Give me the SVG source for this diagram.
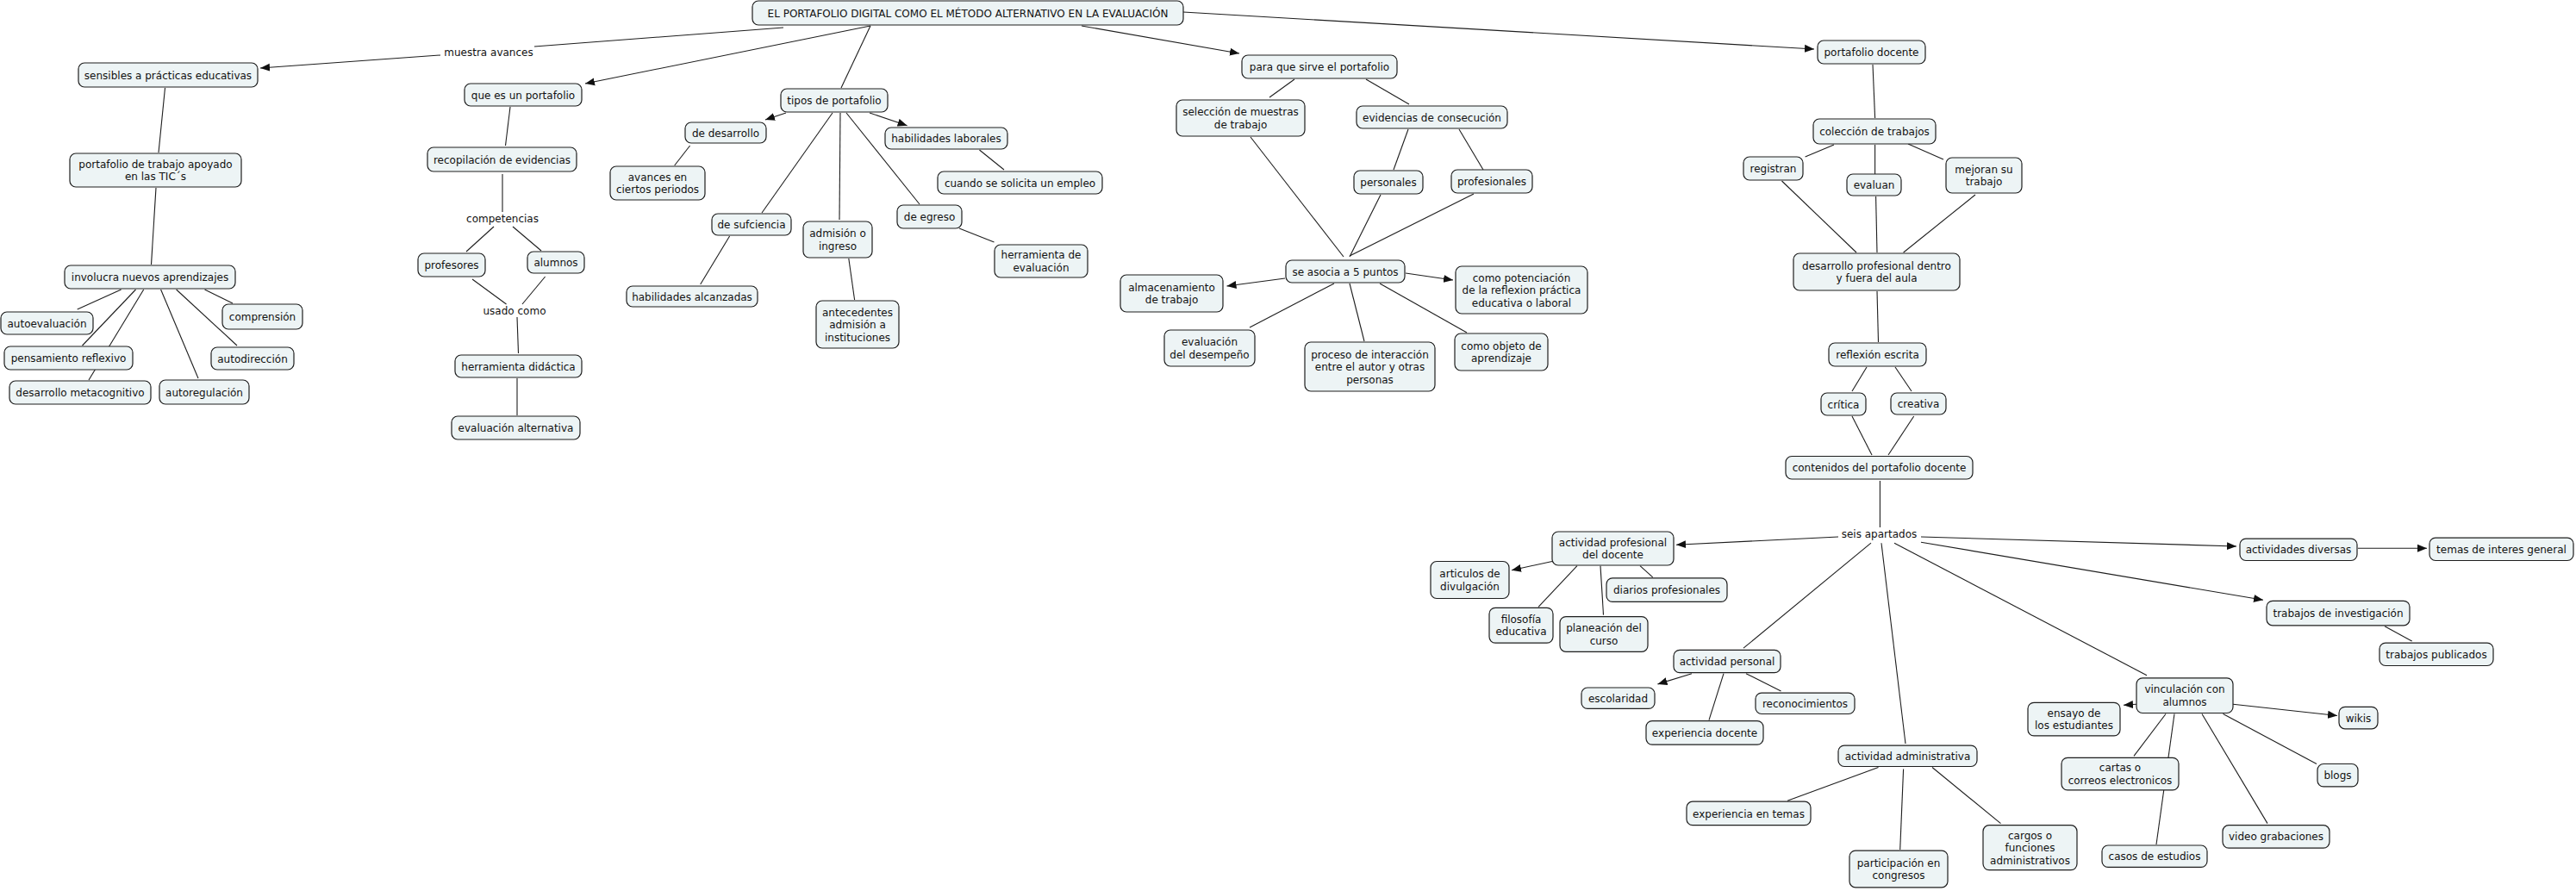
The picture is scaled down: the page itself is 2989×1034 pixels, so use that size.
<svg xmlns="http://www.w3.org/2000/svg" width="2989" height="1034" viewBox="0 0 2989 1034">
<style>
.n rect{fill:#edf4f5;stroke:#1e1e1e;stroke-width:1.2}
text{font-family:"DejaVu Sans",Verdana,sans-serif;font-size:12px;fill:#111;text-anchor:middle}
.c line{stroke:#1e1e1e;stroke-width:1.1}
.c line.a{marker-end:url(#ah)}
</style>
<defs>
<marker id="ah" markerUnits="userSpaceOnUse" markerWidth="12" markerHeight="10" refX="11" refY="5" orient="auto"><path d="M0,0.5 L11,5 L0,9.5 z" fill="#111"/></marker>
</defs>
<rect x="0" y="0" width="2989" height="1034" fill="#fff"/>
<g id="connectors" class="c">
<line x1="909" y1="32" x2="620" y2="54"/>
<line class="a" x1="511" y1="64" x2="302" y2="79"/>
<line class="a" x1="1010" y1="30" x2="679" y2="97"/>
<line x1="1010" y1="30" x2="976" y2="102"/>
<line class="a" x1="1255" y1="30" x2="1438" y2="62"/>
<line class="a" x1="1373" y1="14" x2="2105" y2="57"/>
<line x1="191.5" y1="102" x2="184" y2="177"/>
<line x1="181" y1="218" x2="175.5" y2="307"/>
<line x1="140.6" y1="336" x2="89.7" y2="359"/>
<line x1="157.5" y1="336" x2="95.5" y2="401"/>
<line x1="166.7" y1="336" x2="103" y2="441"/>
<line x1="186.6" y1="336" x2="230" y2="439"/>
<line x1="204.6" y1="336" x2="275" y2="401"/>
<line x1="237.5" y1="336" x2="270" y2="352"/>
<line x1="592" y1="124" x2="586.5" y2="169"/>
<line x1="583" y1="202" x2="583" y2="246"/>
<line x1="573" y1="263" x2="541" y2="292"/>
<line x1="595" y1="263" x2="628" y2="291"/>
<line x1="548" y1="324" x2="587.5" y2="353"/>
<line x1="632.6" y1="321" x2="606" y2="353"/>
<line x1="600" y1="368" x2="601.5" y2="410"/>
<line x1="600" y1="439" x2="600" y2="482"/>
<line class="a" x1="912" y1="131" x2="888" y2="139"/>
<line x1="800.6" y1="169" x2="782.7" y2="192"/>
<line class="a" x1="1009" y1="131" x2="1052.6" y2="145.7"/>
<line x1="1136.5" y1="174" x2="1165" y2="197"/>
<line x1="966" y1="131" x2="884" y2="247"/>
<line x1="846.6" y1="274" x2="812.7" y2="330"/>
<line x1="975" y1="131" x2="974" y2="255"/>
<line x1="984.8" y1="300" x2="991.6" y2="348"/>
<line x1="982" y1="131" x2="1067" y2="237"/>
<line x1="1113" y1="265" x2="1153.5" y2="281"/>
<line x1="1502" y1="92" x2="1473" y2="113"/>
<line x1="1585" y1="92" x2="1635" y2="121"/>
<line x1="1451" y1="159" x2="1559" y2="298"/>
<line x1="1634" y1="150" x2="1617" y2="197"/>
<line x1="1693" y1="150" x2="1721" y2="197"/>
<line x1="1602" y1="226" x2="1566" y2="298"/>
<line x1="1710" y1="225" x2="1566" y2="297"/>
<line class="a" x1="1491" y1="323" x2="1423.5" y2="332"/>
<line x1="1548" y1="329" x2="1450" y2="380"/>
<line class="a" x1="1631" y1="317" x2="1686" y2="325"/>
<line x1="1566" y1="329" x2="1583" y2="396"/>
<line x1="1601" y1="329" x2="1702" y2="386"/>
<line x1="2173" y1="75" x2="2175.6" y2="137"/>
<line x1="2128" y1="168" x2="2094.6" y2="182"/>
<line x1="2175.6" y1="168" x2="2175.6" y2="202"/>
<line x1="2214" y1="167" x2="2255" y2="185"/>
<line x1="2067.5" y1="210" x2="2154" y2="293"/>
<line x1="2176.6" y1="228" x2="2178" y2="293"/>
<line x1="2292" y1="226" x2="2208.6" y2="293"/>
<line x1="2178" y1="338" x2="2179.5" y2="397"/>
<line x1="2166" y1="426" x2="2149" y2="454"/>
<line x1="2199" y1="426" x2="2218" y2="454"/>
<line x1="2149" y1="483" x2="2172" y2="528"/>
<line x1="2220.7" y1="483" x2="2191" y2="528"/>
<line x1="2181.4" y1="558" x2="2181.4" y2="612"/>
<line class="a" x1="2133" y1="623" x2="1945" y2="632.2"/>
<line class="a" x1="1801" y1="651.5" x2="1754" y2="661.7"/>
<line x1="1830" y1="656.6" x2="1785" y2="704.4"/>
<line x1="1857" y1="656.6" x2="1860.5" y2="713.6"/>
<line x1="1903" y1="656.6" x2="1917.7" y2="669.8"/>
<line x1="2171" y1="630.2" x2="2023" y2="752.2"/>
<line class="a" x1="1963" y1="781.7" x2="1923.5" y2="793.9"/>
<line x1="2000" y1="781.7" x2="1983" y2="835.6"/>
<line x1="2026" y1="781.7" x2="2066.5" y2="802"/>
<line x1="2183" y1="630.2" x2="2211" y2="863"/>
<line x1="2179.5" y1="890.5" x2="2074" y2="929.2"/>
<line x1="2208.6" y1="892.6" x2="2204.7" y2="986.1"/>
<line x1="2242" y1="890.5" x2="2321.5" y2="955.6"/>
<line class="a" x1="2229" y1="623" x2="2595" y2="634"/>
<line class="a" x1="2736" y1="636.3" x2="2816" y2="636.3"/>
<line class="a" x1="2229" y1="629.2" x2="2626" y2="696.3"/>
<line x1="2767" y1="726.8" x2="2798.7" y2="744.1"/>
<line x1="2198" y1="630.2" x2="2491" y2="783.7"/>
<line class="a" x1="2479" y1="817.3" x2="2464" y2="818.3"/>
<line class="a" x1="2591" y1="817.3" x2="2712" y2="830.5"/>
<line x1="2579.5" y1="828.5" x2="2688" y2="886.5"/>
<line x1="2555" y1="828.5" x2="2631" y2="955.6"/>
<line x1="2513" y1="828.5" x2="2476" y2="877.3"/>
<line x1="2523" y1="828.5" x2="2502" y2="980"/>
</g>
<g id="labels">
<text x="567" y="64.5">muestra avances</text>
<text x="583" y="257.5">competencias</text>
<text x="597" y="364.5">usado como</text>
<text x="2180.5" y="624.2">seis apartados</text>
</g>
<g id="n1" class="n"><rect x="873" y="1" width="500" height="28" rx="7"/><text x="1123" y="19.5">EL PORTAFOLIO DIGITAL COMO EL MÉTODO ALTERNATIVO EN LA EVALUACIÓN</text></g>
<g id="n2" class="n"><rect x="91" y="73" width="208" height="28" rx="7"/><text x="195" y="91.5">sensibles a prácticas educativas</text></g>
<g id="n3" class="n"><rect x="81" y="178" width="199" height="39" rx="7"/><text x="180.5" y="194.75">portafolio de trabajo apoyado</text><text x="180.5" y="209.25">en las TIC´s</text></g>
<g id="n4" class="n"><rect x="75" y="308" width="198" height="27" rx="7"/><text x="174" y="326">involucra nuevos aprendizajes</text></g>
<g id="n5" class="n"><rect x="1" y="362" width="107" height="26" rx="7"/><text x="54.5" y="379.5">autoevaluación</text></g>
<g id="n6" class="n"><rect x="258" y="353" width="93" height="29" rx="7"/><text x="304.5" y="372">comprensión</text></g>
<g id="n7" class="n"><rect x="5" y="402" width="149" height="27" rx="7"/><text x="79.5" y="420">pensamiento reflexivo</text></g>
<g id="n8" class="n"><rect x="245" y="403" width="96" height="26" rx="7"/><text x="293" y="420.5">autodirección</text></g>
<g id="n9" class="n"><rect x="11" y="442" width="164" height="27" rx="7"/><text x="93" y="460">desarrollo metacognitivo</text></g>
<g id="n10" class="n"><rect x="185" y="441" width="104" height="28" rx="7"/><text x="237" y="459.5">autoregulación</text></g>
<g id="n11" class="n"><rect x="539" y="97" width="136" height="26" rx="7"/><text x="607" y="114.5">que es un portafolio</text></g>
<g id="n12" class="n"><rect x="496" y="171" width="173" height="28" rx="7"/><text x="582.5" y="189.5">recopilación de evidencias</text></g>
<g id="n13" class="n"><rect x="485" y="294" width="78" height="27" rx="7"/><text x="524" y="312">profesores</text></g>
<g id="n14" class="n"><rect x="612" y="292" width="66" height="25" rx="7"/><text x="645" y="309">alumnos</text></g>
<g id="n15" class="n"><rect x="528" y="412" width="147" height="26" rx="7"/><text x="601.5" y="429.5">herramienta didáctica</text></g>
<g id="n16" class="n"><rect x="524" y="483" width="149" height="27" rx="7"/><text x="598.5" y="501">evaluación alternativa</text></g>
<g id="n17" class="n"><rect x="708" y="193" width="110" height="39" rx="7"/><text x="763" y="209.75">avances en</text><text x="763" y="224.25">ciertos periodos</text></g>
<g id="n18" class="n"><rect x="727" y="332" width="152" height="24" rx="7"/><text x="803" y="348.5">habilidades alcanzadas</text></g>
<g id="n19" class="n"><rect x="906" y="103" width="124" height="27" rx="7"/><text x="968" y="121">tipos de portafolio</text></g>
<g id="n20" class="n"><rect x="795" y="142" width="94" height="24" rx="7"/><text x="842" y="158.5">de desarrollo</text></g>
<g id="n21" class="n"><rect x="1027" y="148" width="142" height="25" rx="7"/><text x="1098" y="165">habilidades laborales</text></g>
<g id="n22" class="n"><rect x="1088" y="199" width="191" height="26" rx="7"/><text x="1183.5" y="216.5">cuando se solicita un empleo</text></g>
<g id="n23" class="n"><rect x="826" y="248" width="92" height="25" rx="7"/><text x="872" y="265">de sufciencia</text></g>
<g id="n24" class="n"><rect x="932" y="257" width="80" height="42" rx="7"/><text x="972" y="275.25">admisión o</text><text x="972" y="289.75">ingreso</text></g>
<g id="n25" class="n"><rect x="947" y="349" width="96" height="55" rx="7"/><text x="995" y="366.5">antecedentes</text><text x="995" y="381">admisión a</text><text x="995" y="395.5">instituciones</text></g>
<g id="n26" class="n"><rect x="1041" y="238" width="75" height="27" rx="7"/><text x="1078.5" y="256">de egreso</text></g>
<g id="n27" class="n"><rect x="1154" y="284" width="108" height="38" rx="7"/><text x="1208" y="300.25">herramienta de</text><text x="1208" y="314.75">evaluación</text></g>
<g id="n28" class="n"><rect x="1441" y="64" width="180" height="27" rx="7"/><text x="1531" y="82">para que sirve el portafolio</text></g>
<g id="n29" class="n"><rect x="1365" y="116" width="149" height="42" rx="7"/><text x="1439.5" y="134.25">selección de muestras</text><text x="1439.5" y="148.75">de trabajo</text></g>
<g id="n30" class="n"><rect x="1574" y="123" width="175" height="26" rx="7"/><text x="1661.5" y="140.5">evidencias de consecución</text></g>
<g id="n31" class="n"><rect x="1571" y="198" width="80" height="27" rx="7"/><text x="1611" y="216">personales</text></g>
<g id="n32" class="n"><rect x="1684" y="197" width="94" height="27" rx="7"/><text x="1731" y="215">profesionales</text></g>
<g id="n33" class="n"><rect x="1492" y="302" width="138" height="26" rx="7"/><text x="1561" y="319.5">se asocia a 5 puntos</text></g>
<g id="n34" class="n"><rect x="1300" y="319" width="119" height="43" rx="7"/><text x="1359.5" y="337.75">almacenamiento</text><text x="1359.5" y="352.25">de trabajo</text></g>
<g id="n35" class="n"><rect x="1351" y="383" width="105" height="42" rx="7"/><text x="1403.5" y="401.25">evaluación</text><text x="1403.5" y="415.75">del desempeño</text></g>
<g id="n36" class="n"><rect x="1689" y="309" width="153" height="55" rx="7"/><text x="1765.5" y="326.5">como potenciación</text><text x="1765.5" y="341">de la reflexion práctica</text><text x="1765.5" y="355.5">educativa o laboral</text></g>
<g id="n37" class="n"><rect x="1514" y="397" width="151" height="57" rx="7"/><text x="1589.5" y="415.5">proceso de interacción</text><text x="1589.5" y="430">entre el autor y otras</text><text x="1589.5" y="444.5">personas</text></g>
<g id="n38" class="n"><rect x="1688" y="387" width="108" height="43" rx="7"/><text x="1742" y="405.75">como objeto de</text><text x="1742" y="420.25">aprendizaje</text></g>
<g id="n39" class="n"><rect x="2109" y="47" width="125" height="27" rx="7"/><text x="2171.5" y="65">portafolio docente</text></g>
<g id="n40" class="n"><rect x="2104" y="138" width="142" height="29" rx="7"/><text x="2175" y="157">colección de trabajos</text></g>
<g id="n41" class="n"><rect x="2023" y="182" width="69" height="27" rx="7"/><text x="2057.5" y="200">registran</text></g>
<g id="n42" class="n"><rect x="2143" y="202" width="63" height="25" rx="7"/><text x="2174.5" y="219">evaluan</text></g>
<g id="n43" class="n"><rect x="2258" y="183" width="88" height="41" rx="7"/><text x="2302" y="200.75">mejoran su</text><text x="2302" y="215.25">trabajo</text></g>
<g id="n44" class="n"><rect x="2081" y="294" width="193" height="43" rx="7"/><text x="2177.5" y="312.75">desarrollo profesional dentro</text><text x="2177.5" y="327.25">y fuera del aula</text></g>
<g id="n45" class="n"><rect x="2122" y="398" width="113" height="27" rx="7"/><text x="2178.5" y="416">reflexión escrita</text></g>
<g id="n46" class="n"><rect x="2113" y="456" width="52" height="26" rx="7"/><text x="2139" y="473.5">crítica</text></g>
<g id="n47" class="n"><rect x="2194" y="456" width="64" height="25" rx="7"/><text x="2226" y="473">creativa</text></g>
<g id="n48" class="n"><rect x="2072" y="529.5" width="217" height="26.5" rx="7"/><text x="2180.5" y="547.2">contenidos del portafolio docente</text></g>
<g id="n49" class="n"><rect x="1801" y="617" width="141" height="39" rx="7"/><text x="1871.5" y="633.75">actividad profesional</text><text x="1871.5" y="648.25">del docente</text></g>
<g id="n50" class="n"><rect x="1660" y="651.5" width="91" height="43" rx="7"/><text x="1705.5" y="670.25">articulos de</text><text x="1705.5" y="684.75">divulgación</text></g>
<g id="n51" class="n"><rect x="1728" y="705.4" width="74" height="40.7" rx="7"/><text x="1765" y="722.95">filosofía</text><text x="1765" y="737.45">educativa</text></g>
<g id="n52" class="n"><rect x="1810" y="715.6" width="102" height="40.7" rx="7"/><text x="1861" y="733.25">planeación del</text><text x="1861" y="747.75">curso</text></g>
<g id="n53" class="n"><rect x="1864" y="670.9" width="140" height="27.5" rx="7"/><text x="1934" y="689.1">diarios profesionales</text></g>
<g id="n54" class="n"><rect x="1942" y="754.3" width="124" height="26.4" rx="7"/><text x="2004" y="772">actividad personal</text></g>
<g id="n55" class="n"><rect x="1835" y="798" width="85" height="24.4" rx="7"/><text x="1877.5" y="814.7">escolaridad</text></g>
<g id="n56" class="n"><rect x="1910" y="836.6" width="136" height="27.5" rx="7"/><text x="1978" y="854.8">experiencia docente</text></g>
<g id="n57" class="n"><rect x="2037" y="804.1" width="115" height="24.4" rx="7"/><text x="2094.5" y="820.8">reconocimientos</text></g>
<g id="n58" class="n"><rect x="2133" y="865.1" width="161" height="24.4" rx="7"/><text x="2213.5" y="881.8">actividad administrativa</text></g>
<g id="n59" class="n"><rect x="1957" y="930.2" width="144" height="27.5" rx="7"/><text x="2029" y="948.5">experiencia en temas</text></g>
<g id="n60" class="n"><rect x="2146" y="987.1" width="114" height="42.7" rx="7"/><text x="2203" y="1005.75">participación en</text><text x="2203" y="1020.25">congresos</text></g>
<g id="n61" class="n"><rect x="2301" y="957.7" width="109" height="51.9" rx="7"/><text x="2355.5" y="973.6">cargos o</text><text x="2355.5" y="988.1">funciones</text><text x="2355.5" y="1002.6">administrativos</text></g>
<g id="n62" class="n"><rect x="2599" y="625.1" width="136" height="25.4" rx="7"/><text x="2667" y="642.3">actividades diversas</text></g>
<g id="n63" class="n"><rect x="2819" y="624.1" width="167" height="26.4" rx="7"/><text x="2902.5" y="641.8">temas de interes general</text></g>
<g id="n64" class="n"><rect x="2630" y="697.3" width="166" height="28.5" rx="7"/><text x="2713" y="716">trabajos de investigación</text></g>
<g id="n65" class="n"><rect x="2761" y="746.1" width="132" height="26.4" rx="7"/><text x="2827" y="763.8">trabajos publicados</text></g>
<g id="n66" class="n"><rect x="2479" y="786.8" width="112" height="40.7" rx="7"/><text x="2535" y="804.35">vinculación con</text><text x="2535" y="818.85">alumnos</text></g>
<g id="n67" class="n"><rect x="2353" y="815.3" width="107" height="38.6" rx="7"/><text x="2406.5" y="831.85">ensayo de</text><text x="2406.5" y="846.35">los estudiantes</text></g>
<g id="n68" class="n"><rect x="2714" y="820.4" width="45" height="25.4" rx="7"/><text x="2736.5" y="837.6">wikis</text></g>
<g id="n69" class="n"><rect x="2689" y="886.5" width="47" height="26.4" rx="7"/><text x="2712.5" y="904.2">blogs</text></g>
<g id="n70" class="n"><rect x="2579" y="957.7" width="124" height="26.4" rx="7"/><text x="2641" y="975.4">video grabaciones</text></g>
<g id="n71" class="n"><rect x="2392" y="879.3" width="136" height="37.6" rx="7"/><text x="2460" y="895.35">cartas o</text><text x="2460" y="909.85">correos electronicos</text></g>
<g id="n72" class="n"><rect x="2439" y="981" width="122" height="25.4" rx="7"/><text x="2500" y="998.2">casos de estudios</text></g>
</svg>
